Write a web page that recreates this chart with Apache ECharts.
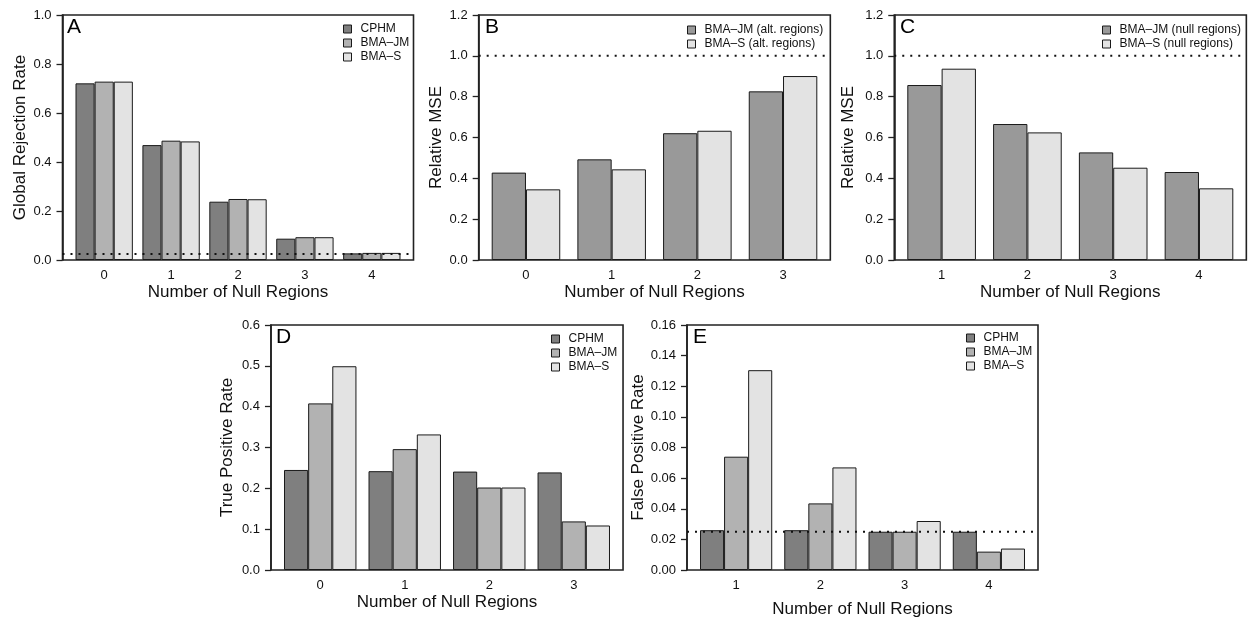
<!DOCTYPE html>
<html>
<head>
<meta charset="utf-8">
<script src="https://cdn.jsdelivr.net/npm/echarts@6/dist/echarts.min.js"></script>
<style>
  html, body { margin: 0; padding: 0; background: #ffffff; }
  #chart { width: 1248px; height: 621px; }
</style>
</head>
<body>
<div id="chart"></div>
<script>
// ---- Data -------------------------------------------------------------
// Panel A: global rejection rate by number of null regions
const nullRegionsA = ['0', '1', '2', '3', '4'];
const rejectCPHM = [0.721, 0.469, 0.238, 0.087, 0.027];
const rejectJM   = [0.728, 0.487, 0.249, 0.093, 0.029];
const rejectS    = [0.728, 0.484, 0.248, 0.093, 0.029];
const yTicksA    = [0, 0.2, 0.4, 0.6, 0.8, 1.0];

// Panel B: relative MSE in alternative regions
const nullRegionsB = ['0', '1', '2', '3'];
const mseAltJM = [0.428, 0.493, 0.621, 0.826];
const mseAltS  = [0.346, 0.444, 0.633, 0.901];
const yTicksB  = [0, 0.2, 0.4, 0.6, 0.8, 1.0, 1.2];

// Panel C: relative MSE in null regions
const nullRegionsC = ['1', '2', '3', '4'];
const mseNullJM = [0.857, 0.666, 0.527, 0.431];
const mseNullS  = [0.937, 0.625, 0.452, 0.351];
const yTicksC   = [0, 0.2, 0.4, 0.6, 0.8, 1.0, 1.2];

// Panel D: true positive rate
const nullRegionsD = ['0', '1', '2', '3'];
const tprCPHM = [0.245, 0.242, 0.241, 0.239];
const tprJM   = [0.408, 0.296, 0.202, 0.119];
const tprS    = [0.499, 0.332, 0.202, 0.109];
const yTicksD = [0, 0.1, 0.2, 0.3, 0.4, 0.5, 0.6];

// Panel E: false positive rate
const nullRegionsE = ['1', '2', '3', '4'];
const fprCPHM = [0.026, 0.026, 0.025, 0.025];
const fprJM   = [0.074, 0.0435, 0.025, 0.012];
const fprS    = [0.1305, 0.067, 0.032, 0.014];
const yTicksE = [0, 0.02, 0.04, 0.06, 0.08, 0.10, 0.12, 0.14, 0.16];

// Nominal level / reference lines
const nominalLevel = 0.025;
const mseReference = 1.0;

// ---- Styling ------------------------------------------------------------
const FONT = '"Liberation Sans", Arial, Helvetica, sans-serif';
const INK = '#111111';
const GREY_DARK = '#7f7f7f';
const GREY_MID = '#b2b2b2';
const GREY_MID2 = '#999999';
const GREY_LIGHT = '#e3e3e3';
const X_TITLE = 'Number of Null Regions';

// Layout of each panel: bar span (first bar left edge to last bar right edge),
// vertical extent, and label placement.
const panels = [
  { letter: 'A', cats: nullRegionsA, perGroup: 3,
    series: [['CPHM', rejectCPHM, GREY_DARK], ['BMA–JM', rejectJM, GREY_MID], ['BMA–S', rejectS, GREY_LIGHT]],
    yTicks: yTicksA, dec: 1, yName: 'Global Rejection Rate', ref: nominalLevel,
    span: [75.5, 400.5], top: 15, bottom: 260, yGap: 34, xGap: 24,
    legendPos: [343, 22], letterPos: [67, 17] },
  { letter: 'B', cats: nullRegionsB, perGroup: 2,
    series: [['BMA–JM (alt. regions)', mseAltJM, GREY_MID2], ['BMA–S (alt. regions)', mseAltS, GREY_LIGHT]],
    yTicks: yTicksB, dec: 1, yName: 'Relative MSE', ref: mseReference,
    span: [491.7, 817.3], top: 15, bottom: 260, yGap: 34, xGap: 24,
    legendPos: [687, 23], letterPos: [485, 17] },
  { letter: 'C', cats: nullRegionsC, perGroup: 2,
    series: [['BMA–JM (null regions)', mseNullJM, GREY_MID2], ['BMA–S (null regions)', mseNullS, GREY_LIGHT]],
    yTicks: yTicksC, dec: 1, yName: 'Relative MSE', ref: mseReference,
    span: [907.3, 1233.3], top: 15, bottom: 260, yGap: 37, xGap: 24,
    legendPos: [1102, 23], letterPos: [900, 17] },
  { letter: 'D', cats: nullRegionsD, perGroup: 3,
    series: [['CPHM', tprCPHM, GREY_DARK], ['BMA–JM', tprJM, GREY_MID], ['BMA–S', tprS, GREY_LIGHT]],
    yTicks: yTicksD, dec: 1, yName: 'True Positive Rate', ref: null,
    span: [284, 610], top: 325, bottom: 570, yGap: 35, xGap: 24,
    legendPos: [551, 332], letterPos: [276, 327] },
  { letter: 'E', cats: nullRegionsE, perGroup: 3,
    series: [['CPHM', fprCPHM, GREY_DARK], ['BMA–JM', fprJM, GREY_MID], ['BMA–S', fprS, GREY_LIGHT]],
    yTicks: yTicksE, dec: 2, yName: 'False Positive Rate', ref: nominalLevel,
    span: [700, 1025], top: 325, bottom: 570, yGap: 36, xGap: 31,
    legendPos: [966, 331], letterPos: [693, 327] }
];

const grid = [], xAxis = [], yAxis = [], series = [], legend = [], title = [];

panels.forEach((p, i) => {
  const nCat = p.cats.length;
  const spanW = p.span[1] - p.span[0];
  // bar width: groups of perGroup bars separated by half a bar
  const barW = spanW / (nCat * p.perGroup + (nCat - 1) * 0.5);
  const dataL = p.span[0] - barW * 0.25;
  const dataR = p.span[1] + barW * 0.25;
  const frameL = p.span[0] - spanW * 0.04;
  const frameR = p.span[1] + spanW * 0.04;
  const h = p.bottom - p.top;
  const yMin = p.yTicks[0];
  const yMax = p.yTicks[p.yTicks.length - 1];
  const yStep = p.yTicks[1] - p.yTicks[0];
  const gapPct = (0.5 / (p.perGroup + 0.5) * 100).toFixed(3) + '%';

  const gData = grid.length;
  grid.push({ left: dataL, top: p.top, width: dataR - dataL, height: h, show: false });
  const gFrame = grid.length;
  grid.push({ left: frameL, top: p.top, width: frameR - frameL, height: h, show: true,
              borderColor: '#222222', borderWidth: 1.6, backgroundColor: 'transparent' });

  xAxis.push({
    type: 'category', gridIndex: gData, data: p.cats,
    axisLine: { show: false }, axisTick: { show: false },
    axisLabel: { color: INK, fontFamily: FONT, fontSize: 13, margin: 9 },
    name: X_TITLE, nameLocation: 'middle', nameGap: p.xGap,
    nameTextStyle: { color: INK, fontFamily: FONT, fontSize: 17 }
  });
  xAxis.push({ type: 'value', gridIndex: gFrame, min: 0, max: 1, show: false });

  yAxis.push({
    type: 'value', gridIndex: gData, min: yMin, max: yMax, interval: yStep,
    offset: dataL - frameL,
    axisLine: { show: true, lineStyle: { color: '#222222', width: 1.6 } },
    axisTick: { show: true, length: 6, lineStyle: { color: '#222222', width: 1.3 } },
    splitLine: { show: false },
    axisLabel: { color: INK, fontFamily: FONT, fontSize: 13, margin: 11,
                 formatter: v => v.toFixed(p.dec) },
    name: p.yName, nameLocation: 'middle', nameRotate: 90, nameGap: p.yGap,
    nameTextStyle: { color: INK, fontFamily: FONT, fontSize: 17 }
  });
  yAxis.push({ type: 'value', gridIndex: gFrame, min: yMin, max: yMax, show: false });

  p.series.forEach(([name, values, color]) => {
    series.push({
      type: 'bar', name, data: values,
      xAxisIndex: gData, yAxisIndex: gData,
      barGap: '0%', barCategoryGap: gapPct,
      itemStyle: { color, borderColor: '#1a1a1a', borderWidth: 1 },
      emphasis: { disabled: true }, silent: true, z: 2
    });
  });

  if (p.ref !== null) {
    series.push({
      type: 'line', name: 'ref' + p.letter,
      xAxisIndex: gFrame, yAxisIndex: gFrame,
      data: [[0, p.ref], [1, p.ref]],
      symbol: 'none', silent: true, z: 5,
      lineStyle: { color: '#111111', width: 2, type: [2, 6] }
    });
  }

  legend.push({
    orient: 'vertical', left: p.legendPos[0], top: p.legendPos[1],
    data: p.series.map(s => s[0]), icon: 'rect',
    itemWidth: 8, itemHeight: 8, itemGap: 0, padding: 0,
    selectedMode: false,
    itemStyle: { borderColor: '#1a1a1a', borderWidth: 1 },
    textStyle: { color: INK, fontFamily: FONT, fontSize: 12, lineHeight: 14, padding: [0, 0, 0, 4] }
  });

  title.push({
    text: p.letter, left: p.letterPos[0], top: p.letterPos[1], padding: 0,
    textStyle: { color: '#000', fontFamily: FONT, fontSize: 21, fontWeight: 'normal' }
  });
});

const chart = echarts.init(document.getElementById('chart'), null, { renderer: 'canvas' });
chart.setOption({
  animation: false,
  backgroundColor: '#ffffff',
  title, grid, xAxis, yAxis, legend, series
});
</script>
</body>
</html>
